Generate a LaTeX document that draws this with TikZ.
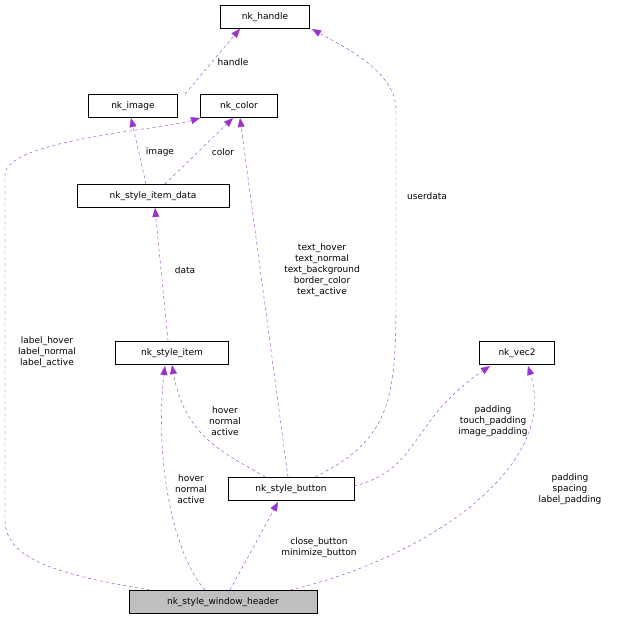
\documentclass[tikz,border=0pt]{standalone}
\usepackage{fontspec}
\setmainfont{DejaVu Sans}
\usetikzlibrary{arrows.meta}
\definecolor{edge}{HTML}{9A32CD}
\begin{document}
\begin{tikzpicture}[x=1pt,y=-1pt,
  box/.style={draw,fill=white,inner sep=0pt,minimum height=23pt,font=\fontsize{9}{10}\selectfont},
  lbl/.style={font=\fontsize{9}{11}\selectfont,align=center,inner sep=1pt},
  e/.style={draw=edge,dashed,-{Triangle[length=9pt,width=7pt,fill=edge]}}]
\useasboundingbox (0,0) rectangle (623,621);
\node[box,minimum width=89pt] (h) at (265,17) {nk\_handle};
\node[box,minimum width=89pt] (img) at (133,106) {nk\_image};
\node[box,minimum width=77pt] (col) at (239,106) {nk\_color};
\node[box,minimum width=152pt] (sid) at (153,196) {nk\_style\_item\_data};
\node[box,minimum width=113pt] (si) at (172,353) {nk\_style\_item};
\node[box,minimum width=75pt] (v) at (517,353) {nk\_vec2};
\node[box,minimum width=126pt] (sb) at (291,489) {nk\_style\_button};
\node[box,minimum width=188pt,fill={rgb,255:red,191;green,191;blue,191}] (wh) at (223,602) {nk\_style\_window\_header};
\draw[e] (185,94) -- (h.south -| 240,0);
\node[lbl] at (233,62) {handle};
\draw[e] (146,184) -- (131,118);
\node[lbl] at (160,152) {image};
\draw[e] (165,184) -- (233,118);
\node[lbl] at (223,152) {color};
\draw[e] (168,341) -- (155,208);
\node[lbl] at (185,270) {data};
\draw[e] (265,477) .. controls (230,455) and (185,440) .. (172,365);
\node[lbl] at (225,421) {hover\\normal\\active};
\draw[e] (288,477) -- (240,118);
\node[lbl] at (322,270) {text\_hover\\text\_normal\\text\_background\\border\_color\\text\_active};
\draw[e] (315,477) .. controls (390,440) and (396,400) .. (396,300) -- (396,110) .. controls (396,70) and (340,45) .. (312,29);
\node[lbl] at (427,196) {userdata};
\draw[e] (354,486) .. controls (420,470) and (410,420) .. (490,366);
\node[lbl] at (493,421) {padding\\touch\_padding\\image\_padding};
\draw[e] (205,590) .. controls (170,550) and (155,450) .. (165,366);
\node[lbl] at (191,489) {hover\\normal\\active};
\draw[e] (230,590) -- (278,502);
\node[lbl] at (319,548) {close\_button\\minimize\_button};
\draw[e] (290,590) .. controls (420,560) and (560,470) .. (528,366);
\node[lbl] at (570,489) {padding\\spacing\\label\_padding};
\draw[e] (150,590) .. controls (60,575) and (5,560) .. (5,520) -- (5,175) .. controls (5,140) and (160,130) .. (200,118);
\node[lbl] at (47,352) {label\_hover\\label\_normal\\label\_active};
\end{tikzpicture}
\end{document}
